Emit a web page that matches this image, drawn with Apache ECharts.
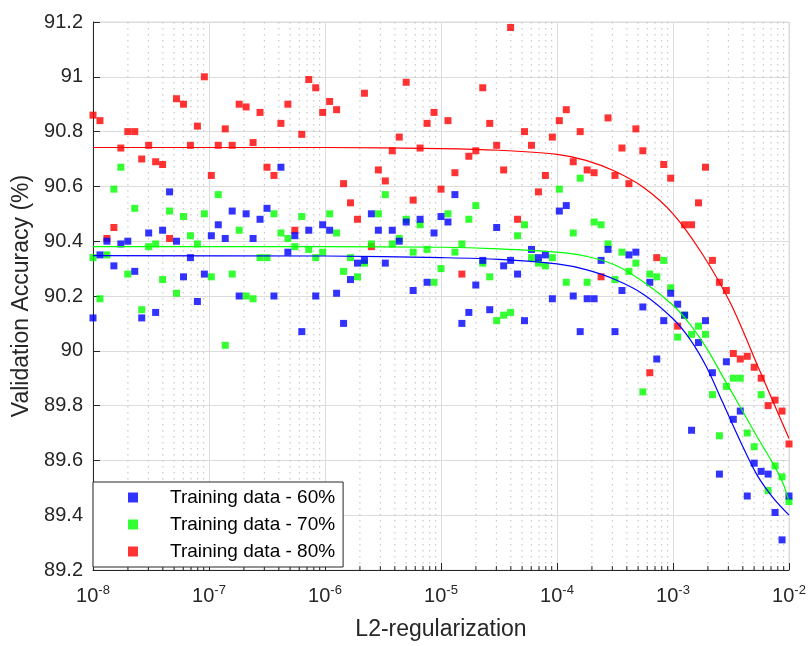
<!DOCTYPE html>
<html>
<head>
<meta charset="utf-8">
<script src="https://cdn.jsdelivr.net/npm/echarts@6/dist/echarts.min.js"></script>
<style>html,body{margin:0;padding:0;background:#fff;}#c{width:811px;height:646px;}</style>
</head>
<body>
<div id="c"></div>
<script>
// exponents of the L2-regularization values (x = 10^exp)
const xExp = [-8.00,-7.94,-7.88,-7.82,-7.76,-7.70,-7.64,-7.58,-7.52,-7.46,-7.40,-7.34,-7.28,-7.22,-7.16,-7.10,-7.04,-6.98,-6.92,-6.86,-6.80,-6.74,-6.68,-6.62,-6.56,-6.50,-6.44,-6.38,-6.32,-6.26,-6.20,-6.14,-6.08,-6.02,-5.96,-5.90,-5.84,-5.78,-5.72,-5.66,-5.60,-5.54,-5.48,-5.42,-5.36,-5.30,-5.24,-5.18,-5.12,-5.06,-5.00,-4.94,-4.88,-4.82,-4.76,-4.70,-4.64,-4.58,-4.52,-4.46,-4.40,-4.34,-4.28,-4.22,-4.16,-4.10,-4.04,-3.98,-3.92,-3.86,-3.80,-3.74,-3.68,-3.62,-3.56,-3.50,-3.44,-3.38,-3.32,-3.26,-3.20,-3.14,-3.08,-3.02,-2.96,-2.90,-2.84,-2.78,-2.72,-2.66,-2.60,-2.54,-2.48,-2.42,-2.36,-2.30,-2.24,-2.18,-2.12,-2.06,-2.00];

const acc60 = [90.12,90.35,90.40,90.31,90.39,90.40,90.29,90.12,90.43,90.14,90.44,90.58,90.40,90.27,90.34,90.18,90.28,90.42,90.46,90.41,90.51,90.20,90.50,90.41,90.48,90.52,90.20,90.67,90.36,90.42,90.07,90.44,90.20,90.46,90.44,90.21,90.10,90.26,90.32,90.33,90.50,90.44,90.32,90.44,90.40,90.47,90.22,90.48,90.25,90.43,90.49,90.47,90.57,90.10,90.14,90.24,90.33,90.15,90.45,90.31,90.33,90.28,90.11,90.37,90.34,90.35,90.19,90.51,90.53,90.20,90.07,90.19,90.19,90.33,90.37,90.07,90.22,90.35,90.36,90.16,90.25,89.97,90.11,90.21,90.17,90.13,89.71,90.03,90.11,89.92,89.55,89.96,89.75,89.78,89.47,89.59,89.56,89.55,89.41,89.31,89.47];

const acc70 = [90.34,90.19,90.35,90.59,90.67,90.28,90.52,90.15,90.38,90.39,90.26,90.51,90.21,90.49,90.42,90.39,90.50,90.27,90.57,90.02,90.28,90.44,90.20,90.19,90.34,90.34,90.50,90.43,90.41,90.38,90.49,90.37,90.34,90.36,90.50,90.43,90.29,90.34,90.27,90.32,90.39,90.50,90.57,90.39,90.41,90.48,90.36,90.46,90.37,90.25,90.30,90.50,90.36,90.39,90.48,90.53,90.32,90.27,90.11,90.13,90.14,90.42,90.46,90.34,90.32,90.31,90.34,90.59,90.25,90.43,90.63,90.25,90.47,90.46,90.39,90.26,90.36,90.29,90.32,89.85,90.28,90.27,90.33,90.23,90.05,90.13,90.06,90.09,90.06,89.84,89.69,89.87,89.90,89.90,89.70,89.65,89.84,89.49,89.58,89.54,89.45];

const acc80 = [90.86,90.84,90.41,90.45,90.74,90.80,90.80,90.70,90.75,90.69,90.68,90.41,90.92,90.90,90.75,90.82,91.00,90.64,90.75,90.81,90.75,90.90,90.89,90.76,90.87,90.67,90.64,90.83,90.90,90.44,90.79,90.99,90.96,90.87,90.91,90.88,90.61,90.54,90.48,90.94,90.38,90.66,90.62,90.73,90.78,90.98,90.55,90.74,90.83,90.87,90.59,90.84,90.65,90.28,90.71,90.73,90.96,90.83,90.75,90.66,91.18,90.48,90.80,90.75,90.58,90.64,90.78,90.84,90.88,90.69,90.80,90.66,90.65,90.27,90.85,90.64,90.74,90.61,90.81,90.73,89.92,90.34,90.68,90.63,90.09,90.46,90.46,90.54,90.67,90.33,90.25,90.22,89.99,89.97,89.98,89.94,89.90,89.80,89.82,89.78,89.66];

// fitted curves: [exponent, accuracy]
const fitExp60 = [-8, -6, -5, -4.5, -4, -3.75, -3.5, -3.25, -3, -2.85, -2.71, -2.57, -2.42, -2.28, -2.14, -2];
const fit60    = [90.347, 90.346, 90.34, 90.334, 90.317, 90.296, 90.26, 90.205, 90.117, 90.04, 89.94, 89.81, 89.67, 89.55, 89.465, 89.40];
const fitExp70 = [-8, -6, -5, -4.5, -4, -3.75, -3.5, -3.25, -3, -2.85, -2.71, -2.57, -2.42, -2.28, -2.14, -2.05, -2];
const fit70    = [90.38, 90.38, 90.378, 90.372, 90.36, 90.345, 90.313, 90.25, 90.166, 90.095, 90.01, 89.905, 89.795, 89.69, 89.59, 89.515, 89.45];
const fitExp80 = [-8, -6, -5, -4.5, -4, -3.75, -3.5, -3.25, -3, -2.75, -2.5, -2.25, -2];
const fit80    = [90.742, 90.742, 90.738, 90.732, 90.717, 90.695, 90.655, 90.595, 90.50, 90.355, 90.17, 89.925, 89.68];

const seriesNames = ['Training data - 60%', 'Training data - 70%', 'Training data - 80%'];
const seriesColors = ['#0000ff', '#00ff00', '#ff0000'];
const yTicks = [89.2, 89.4, 89.6, 89.8, 90, 90.2, 90.4, 90.6, 90.8, 91, 91.2];
const xDecades = [-8, -7, -6, -5, -4, -3, -2];
const minorFactors = [2, 3, 4, 5, 6, 7, 8, 9];

const FONT = '"Liberation Sans", Arial, sans-serif';
const toPts = (ex, ys) => ex.map((e, i) => [Math.pow(10, e), ys[i]]);
const minorTicks = [];
xDecades.slice(0, -1).forEach(d => minorFactors.forEach(f => minorTicks.push([f * Math.pow(10, d), yTicks[0]])));

const chart = echarts.init(document.getElementById('c'), null, {renderer: 'canvas'});

function scatter(name, color, ys, z) {
  return {name, type: 'scatter', data: toPts(xExp, ys), symbol: 'rect', symbolSize: 7,
          itemStyle: {color}, z, emphasis: {disabled: true}, silent: true};
}
function fit(name, color, ex, ys) {
  return {name, type: 'line', data: toPts(ex, ys), smooth: 0.3, showSymbol: false, symbol: 'none',
          lineStyle: {color, width: 1.2}, z: 6, silent: true};
}

chart.setOption({
  animation: false,
  backgroundColor: '#fff',
  grid: {left: 93, right: 22, top: 22, bottom: 74, show: true, borderColor: '#dcdcdc', borderWidth: 1},
  legend: {
    orient: 'vertical', left: 93, top: 482,
    data: seriesNames, icon: 'rect', itemWidth: 10, itemHeight: 10, itemGap: 8,
    textStyle: {fontFamily: FONT, fontSize: 19, color: '#000', lineHeight: 19, padding: [0, 0, 0, 27]},
    backgroundColor: '#fff', borderColor: '#262626', borderWidth: 1, borderRadius: 0,
    padding: [6, 8, 6, 35], selectedMode: false
  },
  xAxis: {
    type: 'log', logBase: 10, min: Math.pow(10, xDecades[0]), max: Math.pow(10, xDecades[xDecades.length - 1]),
    splitNumber: 6,
    name: 'L2-regularization', nameLocation: 'middle', nameGap: 48,
    nameTextStyle: {fontFamily: FONT, fontSize: 23, color: '#262626'},
    axisLine: {show: true, onZero: false, lineStyle: {color: '#262626', width: 1}},
    axisTick: {show: true, inside: true, length: 7, lineStyle: {color: '#262626'}},
    axisLabel: {
      margin: 14, color: '#262626',
      formatter: v => '{b|10}{s|' + Math.round(Math.log10(v)) + '}',
      rich: {b: {fontFamily: FONT, fontSize: 20, color: '#262626'},
             s: {fontFamily: FONT, fontSize: 13, color: '#262626', padding: [0, 0, 12, 0]}}
    },
    splitLine: {show: true, lineStyle: {color: '#dcdcdc', width: 1}}
  },
  yAxis: {
    type: 'value', min: yTicks[0], max: yTicks[yTicks.length - 1], interval: 0.2,
    name: 'Validation Accuracy (%)', nameLocation: 'middle', nameGap: 59,
    nameTextStyle: {fontFamily: FONT, fontSize: 23, color: '#262626'},
    axisLine: {show: true, lineStyle: {color: '#262626', width: 1}},
    axisTick: {show: true, inside: true, length: 7, lineStyle: {color: '#262626'}},
    axisLabel: {margin: 10, fontFamily: FONT, fontSize: 20, color: '#262626',
                formatter: v => String(+v.toFixed(1))},
    splitLine: {show: true, lineStyle: {color: '#dcdcdc', width: 1}}
  },
  series: [
    {
      type: 'custom', name: 'minor', data: minorTicks, silent: true, z: 1,
      encode: {x: 0, y: 1},
      renderItem: (params, api) => {
        const b = api.coord([api.value(0), yTicks[0]]);
        const t = api.coord([api.value(0), yTicks[yTicks.length - 1]]);
        return {type: 'group', children: [
          {type: 'line', shape: {x1: b[0], y1: t[1], x2: b[0], y2: b[1]},
           style: {stroke: '#bdbdbd', lineWidth: 1, lineDash: [1.5, 4.5]}},
          {type: 'line', shape: {x1: b[0], y1: b[1], x2: b[0], y2: b[1] - 4},
           style: {stroke: '#262626', lineWidth: 1}}
        ]};
      }
    },
    scatter(seriesNames[2], seriesColors[2], acc80, 3),
    scatter(seriesNames[1], seriesColors[1], acc70, 4),
    scatter(seriesNames[0], seriesColors[0], acc60, 5),
    fit('fit80', seriesColors[2], fitExp80, fit80),
    fit('fit70', seriesColors[1], fitExp70, fit70),
    fit('fit60', seriesColors[0], fitExp60, fit60)
  ]
});
</script>
</body>
</html>
